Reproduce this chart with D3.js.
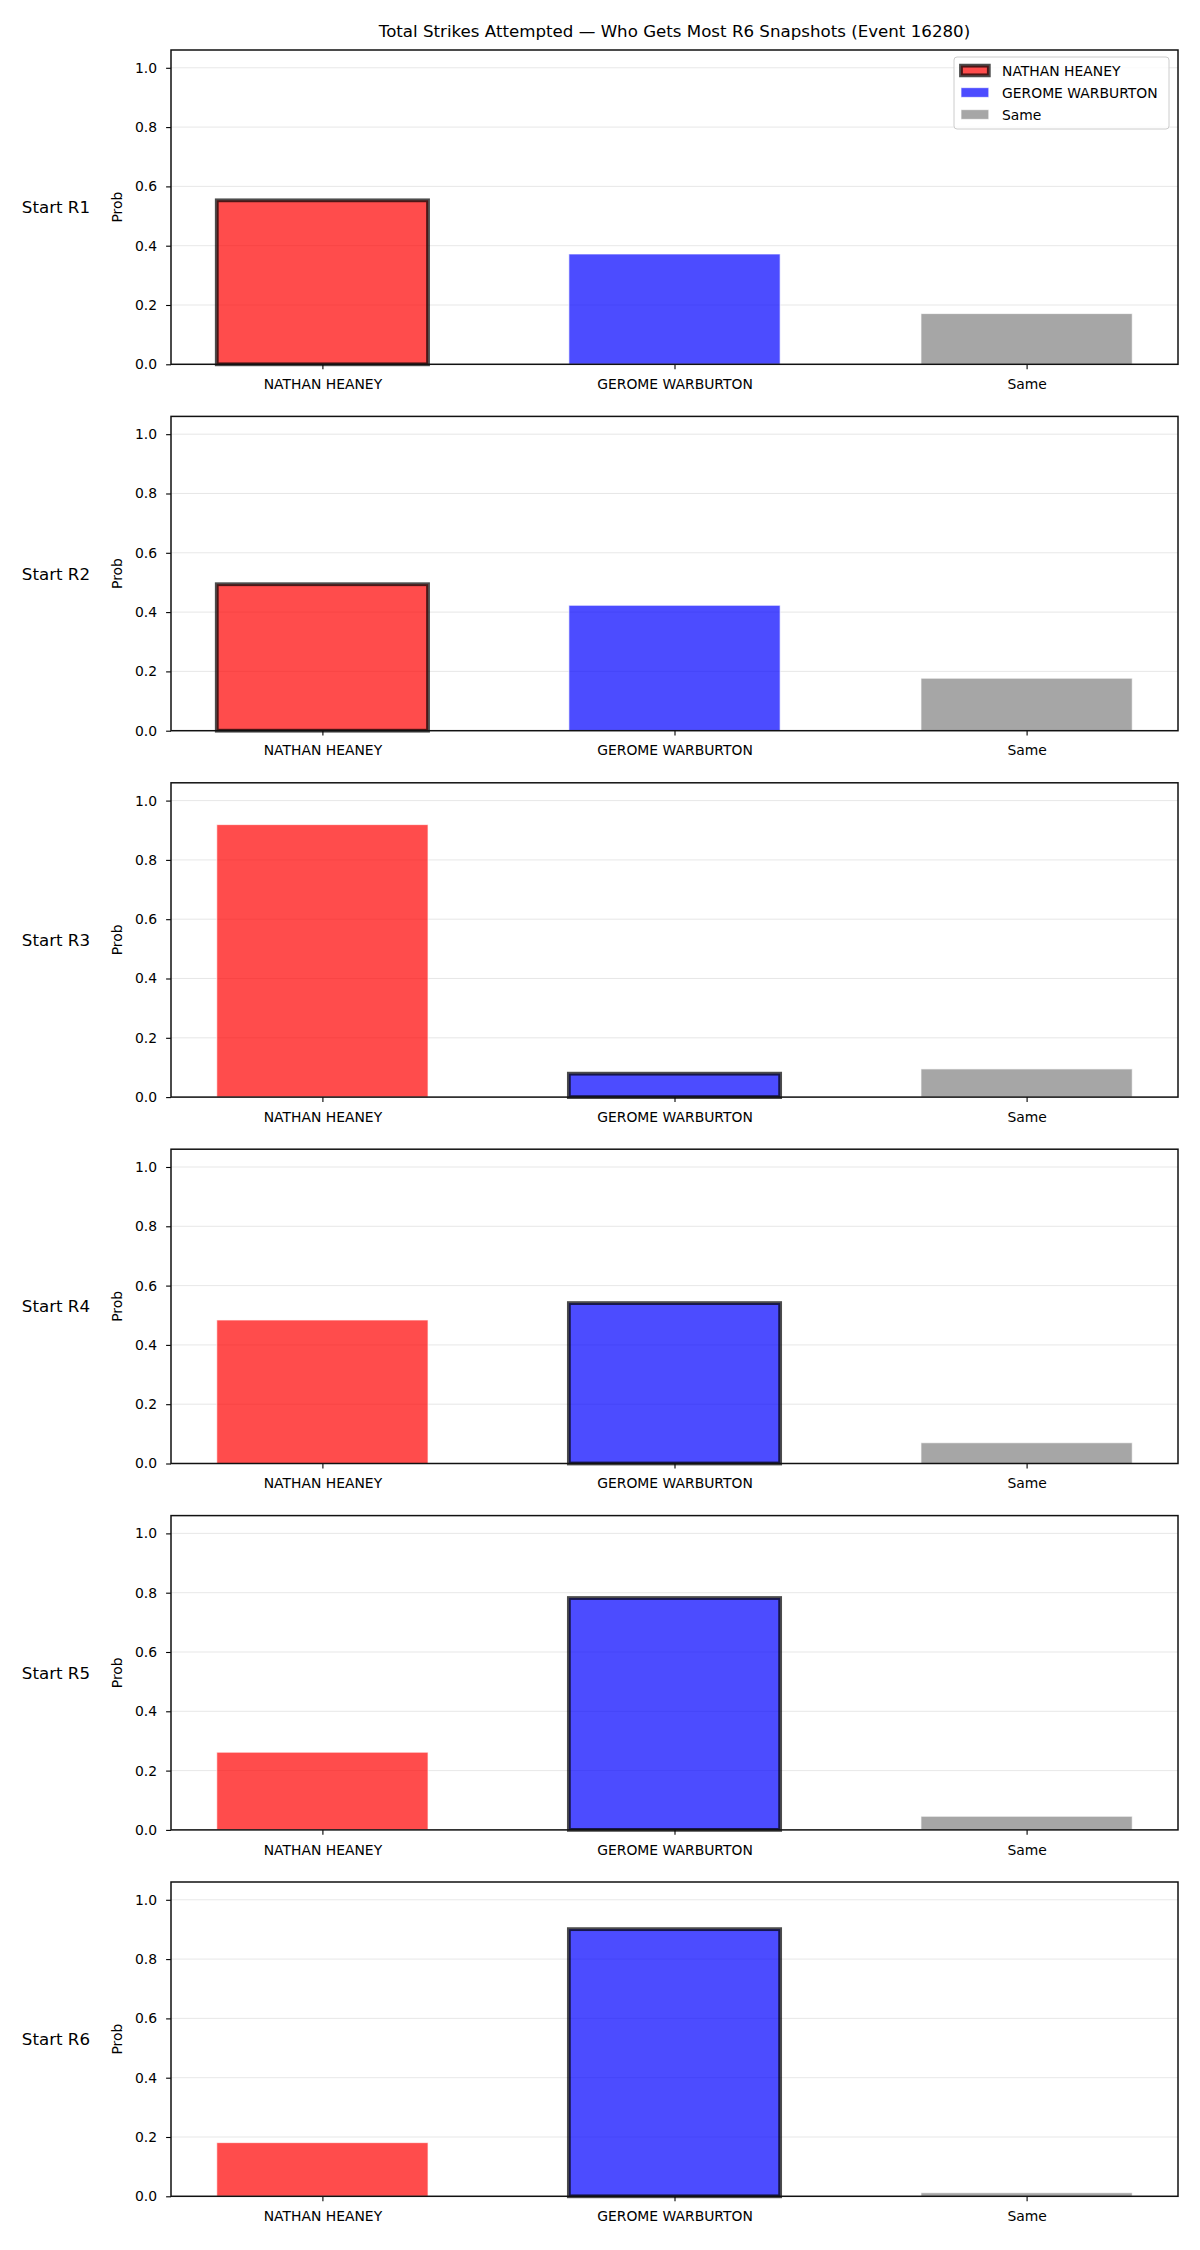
<!DOCTYPE html>
<html>
<head>
<meta charset="utf-8">
<script src="https://cdn.jsdelivr.net/npm/d3@7"></script>
<style>
  body { margin: 0; background: #fff; }
  svg { display: block; font-family: "DejaVu Sans", sans-serif; }
</style>
</head>
<body>
<svg id="drawing_region"></svg>
<script>
// values
const categories = ['NATHAN HEANEY', 'GEROME WARBURTON', 'Same'];
const rounds = ['Start R1', 'Start R2', 'Start R3', 'Start R4', 'Start R5', 'Start R6'];
const nathan = [0.553, 0.494, 0.919, 0.484, 0.262, 0.181];
const gerome = [0.372, 0.423, 0.079, 0.541, 0.782, 0.901];
const same = [0.171, 0.177, 0.095, 0.070, 0.046, 0.012];
// bar drawn with the heavy outline in each row
const highlight = ['NATHAN HEANEY', 'NATHAN HEANEY', 'GEROME WARBURTON', 'GEROME WARBURTON', 'GEROME WARBURTON', 'GEROME WARBURTON'];
const yticks = [0.0, 0.2, 0.4, 0.6, 0.8, 1.0];
const colors = ['red', 'blue', 'gray'];
const title = 'Total Strikes Attempted \u2014 Who Gets Most R6 Snapshots (Event 16280)';

var config = {
    parent: '#drawing_region',
    width: 1200,
    height: 2250,
    left: 171,
    right: 1178,
    top: 50,
    panel_height: 314.3,
    panel_step: 366.4,
};

const svg = d3.select(config.parent)
    .attr('width', config.width)
    .attr('height', config.height);

svg.append('rect')
    .attr('width', config.width)
    .attr('height', config.height)
    .attr('fill', 'white');

svg.append('text')
    .attr('x', (config.left + config.right) / 2)
    .attr('y', 37)
    .attr('text-anchor', 'middle')
    .attr('font-size', '16.67px')
    .attr('fill', '#000')
    .text(title);

class ProbPanel {
    constructor(config, row) {
        this.config = config;
        this.row = row;
        this.data = categories.map((c, i) => ({
            cat: c,
            idx: i,
            value: [nathan, gerome, same][i][row],
            color: colors[i],
            hl: highlight[row] === c,
        }));
        this.init();
    }

    init() {
        let self = this;
        const cfg = self.config;

        self.inner_width = cfg.right - cfg.left;
        self.inner_height = cfg.panel_height;

        self.chart = svg.append('g')
            .attr('transform', `translate(${cfg.left}, ${cfg.top + self.row * cfg.panel_step})`);

        self.xscale = d3.scaleLinear()
            .domain([-0.43, 2.43])
            .range([0, self.inner_width]);

        self.yscale = d3.scaleLinear()
            .domain([0, 1.06])
            .range([self.inner_height, 0]);

        self.xaxis = d3.axisBottom(self.xscale)
            .tickValues([0, 1, 2])
            .tickFormat(i => categories[i])
            .tickSize(4.9)
            .tickPadding(10);

        self.yaxis = d3.axisLeft(self.yscale)
            .tickValues(yticks)
            .tickFormat(d3.format('.1f'))
            .tickSize(4.9)
            .tickPadding(9);
    }

    render() {
        let self = this;
        const cfg = self.config;
        const bw = self.xscale(0.3) - self.xscale(0);

        // grid
        self.chart.selectAll('.grid')
            .data(yticks)
            .enter()
            .append('line')
            .attr('x1', 0)
            .attr('x2', self.inner_width)
            .attr('y1', d => self.yscale(d))
            .attr('y2', d => self.yscale(d))
            .attr('stroke', '#b0b0b0')
            .attr('stroke-opacity', 0.3)
            .attr('stroke-width', 1);

        self.chart.selectAll('.bar')
            .data(self.data)
            .enter()
            .append('rect')
            .attr('x', d => self.xscale(d.idx) - bw)
            .attr('width', 2 * bw)
            .attr('y', d => self.yscale(d.value))
            .attr('height', d => self.yscale(0) - self.yscale(d.value))
            .attr('fill', d => d.color)
            .attr('fill-opacity', 0.7)
            .attr('stroke', d => d.hl ? 'black' : 'white')
            .attr('stroke-opacity', 0.7)
            .attr('stroke-width', d => d.hl ? 3.8 : 1);

        const xg = self.chart.append('g')
            .attr('transform', `translate(0, ${self.inner_height})`)
            .call(self.xaxis);
        const yg = self.chart.append('g').call(self.yaxis);

        [xg, yg].forEach(g => {
            g.select('.domain').remove();
            g.selectAll('.tick line').attr('stroke', '#000').attr('stroke-width', 1.1);
            g.selectAll('.tick text')
                .attr('font-family', '"DejaVu Sans", sans-serif')
                .attr('font-size', '13.9px')
                .attr('fill', '#000');
        });

        self.chart.append('rect')
            .attr('width', self.inner_width)
            .attr('height', self.inner_height)
            .attr('fill', 'none')
            .attr('stroke', '#111')
            .attr('stroke-width', 1.5);

        const cy = self.inner_height / 2;
        self.chart.append('text')
            .attr('transform', `translate(${-49}, ${cy}) rotate(-90)`)
            .attr('text-anchor', 'middle')
            .attr('font-size', '13.9px')
            .text('Prob');

        self.chart.append('text')
            .attr('x', 90 - cfg.left)
            .attr('y', cy + 6)
            .attr('text-anchor', 'end')
            .attr('font-size', '16.67px')
            .text(rounds[self.row]);

        if (self.row === 0) self.legend();
    }

    legend() {
        let self = this;
        const lg = self.chart.append('g')
            .attr('transform', `translate(${954 - self.config.left}, ${57 - self.config.top})`);

        lg.append('rect')
            .attr('width', 215)
            .attr('height', 72)
            .attr('rx', 3)
            .attr('fill', 'white')
            .attr('fill-opacity', 0.8)
            .attr('stroke', '#cccccc')
            .attr('stroke-width', 1);

        const items = self.data;
        const rows = lg.selectAll('.item')
            .data(items)
            .enter()
            .append('g')
            .attr('transform', (d, i) => `translate(0, ${13.5 + i * 22})`);

        rows.append('rect')
            .attr('x', 7)
            .attr('y', -4.85)
            .attr('width', 27.8)
            .attr('height', 9.7)
            .attr('fill', d => d.color)
            .attr('fill-opacity', 0.7)
            .attr('stroke', d => d.hl ? 'black' : 'white')
            .attr('stroke-opacity', 0.7)
            .attr('stroke-width', d => d.hl ? 3.8 : 1);

        rows.append('text')
            .attr('x', 48)
            .attr('y', 5)
            .attr('font-size', '13.9px')
            .text(d => d.cat);
    }
}

rounds.forEach((r, i) => {
    const panel = new ProbPanel(config, i);
    panel.render();
});
</script>
</body>
</html>
